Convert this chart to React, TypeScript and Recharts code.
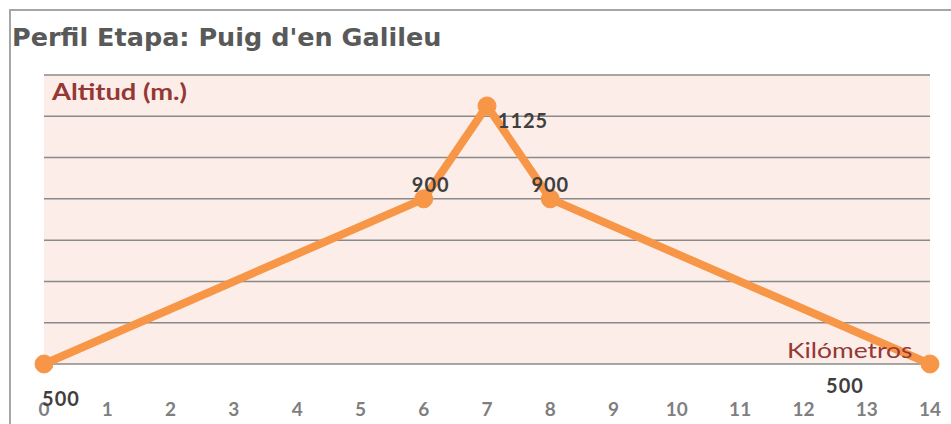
import React from "react";
import { LineChart, Line, XAxis, YAxis, CartesianGrid, LabelList } from "recharts";

const kilometres = [0, 6, 7, 8, 14];
const altitudes = [500, 900, 1125, 900, 500];
const xTicks = [0, 1, 2, 3, 4, 5, 6, 7, 8, 9, 10, 11, 12, 13, 14];
const yTicks = [500, 600, 700, 800, 900, 1000, 1100, 1200];

const data = kilometres.map((km, i) => ({ km, alt: altitudes[i] }));

// label offsets relative to each point (style only)
const labelOffsets = [
  [17, 34],
  [7, -15],
  [36, 14],
  [0, -15],
  [-85, 21],
];

const renderLabel = (props: any) => {
  const { x, y, value, index } = props;
  const [dx, dy] = labelOffsets[index] || [0, -12];
  return (
    <text
      x={x + dx}
      y={y + dy}
      textAnchor="middle"
      dominantBaseline="central"
      fontFamily="Lato, 'Open Sans', sans-serif"
      fontWeight={700}
      fontSize={20}
      letterSpacing={1}
      fill="#3f3f3f"
    >
      {value}
    </text>
  );
};

export default function App() {
  return (
    <div style={{ position: "absolute", left: 0, top: 0, width: 951, height: 424, overflow: "hidden", background: "#fff" }}>
      <div
        style={{
          position: "absolute",
          left: 9,
          top: 9,
          width: 1000,
          height: 1000,
          border: "2px solid #a6a6a6",
          boxSizing: "border-box",
        }}
      />
      <div
        style={{
          position: "absolute",
          left: 12,
          top: 22,
          fontFamily: "'DejaVu Sans', Verdana, sans-serif",
          fontWeight: 700,
          fontSize: 25.5,
          color: "#595959",
          whiteSpace: "nowrap",
        }}
      >
        Perfil Etapa: Puig d'en Galileu
      </div>
      <div style={{ position: "absolute", left: 0, top: 0 }}>
        <LineChart width={951} height={424} data={data} margin={{ top: 75, right: 21, bottom: 0, left: 44 }}>
          <CartesianGrid vertical={false} horizontal={true} fill="#fcede8" stroke="#8a8a8a" strokeWidth={1.5} />
          <XAxis
            dataKey="km"
            type="number"
            domain={[0, 14]}
            ticks={xTicks}
            interval={0}
            axisLine={false}
            tickLine={false}
            tickMargin={33}
            height={60}
            tick={{ fill: "#7f7f7f", fontSize: 19, fontWeight: 700, fontFamily: "Lato, 'Open Sans', sans-serif" }}
          />
          <YAxis type="number" domain={[500, 1200]} ticks={yTicks} hide width={0} />
          <Line
            type="linear"
            dataKey="alt"
            stroke="#f79646"
            strokeWidth={8}
            dot={{ r: 9, fill: "#f79646", stroke: "#f79646", strokeWidth: 1 }}
            activeDot={false}
            isAnimationActive={false}
          >
            <LabelList dataKey="alt" content={renderLabel} />
          </Line>
        </LineChart>
      </div>
      <div
        style={{
          position: "absolute",
          left: 52,
          top: 78,
          fontFamily: "Lato, 'Open Sans', sans-serif",
          fontWeight: 700,
          fontSize: 22,
          color: "#953735",
          whiteSpace: "nowrap",
          transform: "scaleX(1.24)",
          transformOrigin: "left center",
        }}
      >
        Altitud (m.)
      </div>
      <div
        style={{
          position: "absolute",
          left: 787,
          top: 336,
          fontFamily: "Lato, 'Open Sans', sans-serif",
          fontWeight: 400,
          fontSize: 22,
          color: "#953735",
          whiteSpace: "nowrap",
          transform: "scaleX(1.2)",
          transformOrigin: "left center",
        }}
      >
        Kilómetros
      </div>
    </div>
  );
}
